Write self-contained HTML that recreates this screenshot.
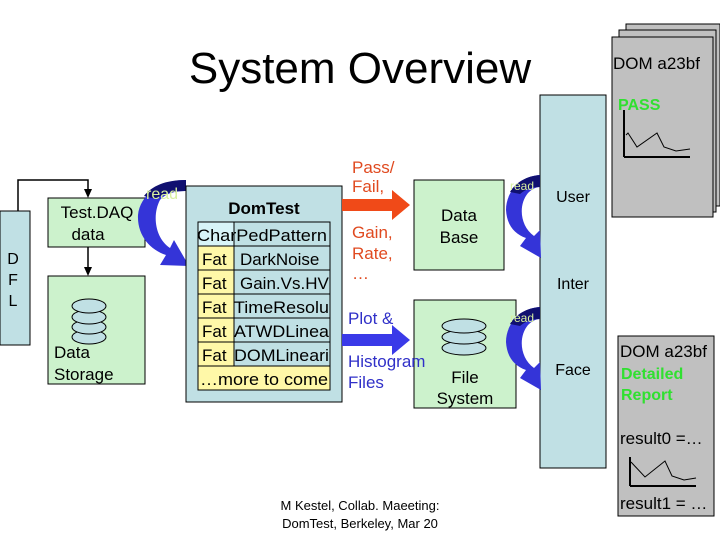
<!DOCTYPE html>
<html><head><meta charset="utf-8"><style>
body{margin:0;background:#fff}
svg{display:block}
text{font-family:"Liberation Sans",Arial,sans-serif}
</style></head><body>
<svg width="720" height="540" viewBox="0 0 720 540" xmlns="http://www.w3.org/2000/svg">
<text x="360" y="83" font-size="44" text-anchor="middle">System Overview</text>

<rect x="626" y="24" width="94" height="182" fill="#c0c0c0" stroke="#000"/>
<rect x="619" y="30" width="97" height="182" fill="#c0c0c0" stroke="#000"/>
<rect x="612" y="37" width="101" height="180" fill="#c0c0c0" stroke="#000"/>
<text x="613" y="69" font-size="17">DOM a23bf</text>
<text x="618" y="110" font-size="16" font-weight="bold" fill="#30e030">PASS</text>
<path d="M624,157 L624,110 M624,157 L690,157" stroke="#000" stroke-width="2" fill="none"/>
<path d="M626,135 L628,133 L637,147 L657,133 L664,147 L676,151 L690,149" stroke="#000" fill="none"/>

<rect x="540" y="95" width="66" height="373" fill="#c0e0e4" stroke="#000"/>
<text x="573" y="202" font-size="16" text-anchor="middle">User</text>
<text x="573" y="289" font-size="16" text-anchor="middle">Inter</text>
<text x="573" y="375" font-size="16" text-anchor="middle">Face</text>

<rect x="0" y="211" width="30" height="134" fill="#c0e0e4" stroke="#000"/>
<text x="13" y="264" font-size="16" text-anchor="middle">D</text>
<text x="13" y="285" font-size="16" text-anchor="middle">F</text>
<text x="13" y="306" font-size="16" text-anchor="middle">L</text>
<path d="M18,211 L18,180 L88,180 L88,190" stroke="#000" stroke-width="1.5" fill="none"/>
<polygon points="84,189 92,189 88,198" fill="#000"/>
<rect x="48" y="198" width="97" height="49" fill="#ccf2cc" stroke="#000"/>
<text x="97" y="218" font-size="17" text-anchor="middle">Test.DAQ</text>
<text x="88" y="240" font-size="17" text-anchor="middle">data</text>
<path d="M88,247 L88,268" stroke="#000" stroke-width="1.5"/>
<polygon points="84,267 92,267 88,276" fill="#000"/>
<rect x="48" y="276" width="97" height="108" fill="#ccf2cc" stroke="#000"/>
<g fill="#c0e0e4" stroke="#000">
<ellipse cx="89" cy="337" rx="17" ry="7"/>
<ellipse cx="89" cy="327" rx="17" ry="7"/>
<ellipse cx="89" cy="317" rx="17" ry="7"/>
<ellipse cx="89" cy="306" rx="17" ry="7"/>
</g>
<text x="54" y="358" font-size="17">Data</text>
<text x="54" y="380" font-size="17">Storage</text>

<path d="M186,180 C160,180 140,195 138,215 C137,235 150,250 166,255 L160,265 L189,266 L174,240 L170,248 C155,238 152,215 160,200 C166,193 176,191 186,191 Z" fill="#3434d8"/>
<path d="M186,180 C165,180 152,186 144,196 L156,199 C163,193 174,191 186,191 Z" fill="#101070"/>
<text x="146" y="199" font-size="16" fill="#d8f0a0">read</text>

<rect x="186" y="186" width="156" height="216" fill="#c0e0e4" stroke="#000"/>
<text x="264" y="214" font-size="17" font-weight="bold" text-anchor="middle">DomTest</text>
<g stroke="#000">
<rect x="198" y="222" width="36" height="24" fill="#d8f4f8"/>
<rect x="234" y="222" width="96" height="24" fill="#c0e0e4"/>
<rect x="198" y="246" width="36" height="120" fill="#fff8a8"/>
<rect x="234" y="246" width="96" height="120" fill="#c0e0e4"/>
<line x1="198" y1="270" x2="330" y2="270"/>
<line x1="198" y1="294" x2="330" y2="294"/>
<line x1="198" y1="318" x2="330" y2="318"/>
<line x1="198" y1="342" x2="330" y2="342"/>
<rect x="198" y="366" width="132" height="24" fill="#fff8a8"/>
</g>
<g font-size="17">
<text x="197" y="241" textLength="130" lengthAdjust="spacingAndGlyphs">CharPedPattern</text>
<text x="202" y="265">Fat</text><text x="240" y="265">DarkNoise</text>
<text x="202" y="289">Fat</text><text x="240" y="289">Gain.Vs.HV</text>
<text x="202" y="313">Fat</text><text x="234" y="313" textLength="95" lengthAdjust="spacingAndGlyphs">TimeResolu</text>
<text x="202" y="337">Fat</text><text x="234" y="337" textLength="95" lengthAdjust="spacingAndGlyphs">ATWDLinea</text>
<text x="202" y="361">Fat</text><text x="234" y="361" textLength="95" lengthAdjust="spacingAndGlyphs">DOMLineari</text>
<text x="200" y="385" textLength="128" lengthAdjust="spacingAndGlyphs">…more to come</text>
</g>

<text x="352" y="173" font-size="17" fill="#e04a20">Pass/</text>
<text x="352" y="192" font-size="17" fill="#e04a20">Fail,</text>
<path d="M342,199 L392,199 L392,190 L410,205 L392,220 L392,211 L342,211 Z" fill="#f04a18"/>
<text x="352" y="238" font-size="17" fill="#e04a20">Gain,</text>
<text x="352" y="259" font-size="17" fill="#e04a20">Rate,</text>
<text x="352" y="279" font-size="17" fill="#e04a20">…</text>

<rect x="414" y="180" width="90" height="90" fill="#ccf2cc" stroke="#000"/>
<text x="459" y="221" font-size="17" text-anchor="middle">Data</text>
<text x="459" y="243" font-size="17" text-anchor="middle">Base</text>

<rect x="414" y="300" width="102" height="108" fill="#ccf2cc" stroke="#000"/>
<g fill="#c0e0e4" stroke="#000">
<ellipse cx="464" cy="348" rx="22" ry="7"/>
<ellipse cx="464" cy="337" rx="22" ry="7"/>
<ellipse cx="464" cy="326" rx="22" ry="7"/>
</g>
<text x="465" y="383" font-size="17" text-anchor="middle">File</text>
<text x="465" y="404" font-size="17" text-anchor="middle">System</text>

<text x="348" y="324" font-size="17" fill="#3030c8">Plot &amp;</text>
<path d="M342,334 L392,334 L392,325 L410,340 L392,355 L392,346 L342,346 Z" fill="#3a3ae8"/>
<text x="348" y="367" font-size="17" fill="#3030c8">Histogram</text>
<text x="348" y="388" font-size="17" fill="#3030c8">Files</text>

<g fill="#3434d8">
<path d="M540,175 C520,176 506,192 506,210 C507,226 515,234 526,238 L520,246 L541,258 L540,230 L534,236 C520,226 518,205 528,193 C532,189 536,187 540,187 Z"/>
<path d="M540,307 C520,308 506,324 506,342 C507,358 515,366 526,370 L520,378 L541,390 L540,362 L534,368 C520,358 518,337 528,325 C532,321 536,319 540,319 Z"/>
</g>
<path d="M540,175 C527,176 516,182 510,192 L520,194 C526,189 532,187 540,187 Z" fill="#101070"/>
<path d="M540,307 C527,308 516,314 510,324 L520,326 C526,321 532,319 540,319 Z" fill="#101070"/>
<text x="510" y="190" font-size="12" fill="#d8f0a0">read</text>
<text x="510" y="322" font-size="12" fill="#d8f0a0">read</text>

<rect x="618" y="336" width="96" height="180" fill="#c0c0c0" stroke="#000"/>
<text x="620" y="357" font-size="17">DOM a23bf</text>
<text x="621" y="379" font-size="16" font-weight="bold" fill="#30e030">Detailed</text>
<text x="621" y="400" font-size="16" font-weight="bold" fill="#30e030">Report</text>
<text x="620" y="444" font-size="17">result0 =…</text>
<path d="M630,486 L630,457 M630,486 L696,486" stroke="#000" stroke-width="2" fill="none"/>
<path d="M631,462 L645,477 L665,461 L672,476 L684,480 L696,478" stroke="#000" fill="none"/>
<text x="620" y="509" font-size="17">result1 = …</text>

<text x="360" y="510" font-size="13" text-anchor="middle">M Kestel, Collab. Maeeting:</text>
<text x="360" y="528" font-size="13" text-anchor="middle">DomTest, Berkeley, Mar 20</text>
</svg>
</body></html>
